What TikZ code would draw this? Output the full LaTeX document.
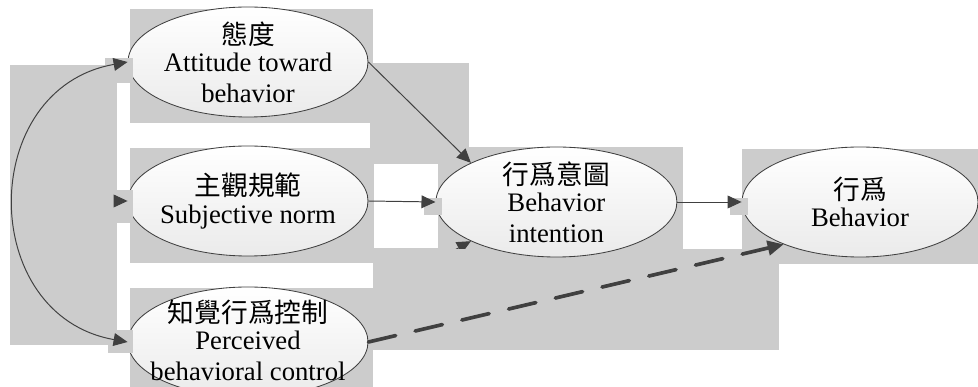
\documentclass[tikz,border=0pt]{standalone}
\usepackage{fontspec}
\setmainfont{Liberation Serif}
\newfontfamily\cjk{Noto Sans CJK TC}
\usepackage{tikz}
\usetikzlibrary{arrows.meta,shapes.geometric}
\definecolor{canvasgray}{RGB}{204,204,204}
\definecolor{linegray}{RGB}{64,64,64}
\newcommand\tightlines{\lineskiplimit=-20pt\relax\lineskip=0pt\relax}
\newcommand\han[1]{\raisebox{-2pt}{\cjk #1}}
\tikzset{
  bubble/.style={ellipse,draw=linegray,line width=0.6pt,top color=white,
    bottom color=black!8,minimum width=6cm,minimum height=2.75cm,inner sep=0pt},
  words/.style={align=center,inner sep=0pt,
    font=\fontsize{19}{21.6}\selectfont\tightlines}
}

\begin{document}
\begin{tikzpicture}[>={Triangle[length=3.5mm,width=3.2mm]},
  link/.style={->,draw=linegray,line width=0.7pt},
  dashlink/.style={-{Triangle[length=4mm,width=3.6mm]},draw=linegray,
    line width=2.6pt,line cap=round,dash pattern=on 0.7cm off 0.5cm}]
\useasboundingbox (0,0) rectangle (24.45,9.675);
% grey canvas pieces behind the shapes
\fill[canvasgray] (0.25,1.05) rectangle (2.925,8.05);
\fill[canvasgray] (3.25,6.6) rectangle (9.325,9.45);
\fill[canvasgray] (9.325,5.6) rectangle (11.725,8.1);
\fill[canvasgray] (9.25,3.45) rectangle (10.95,6.6);
\fill[canvasgray] (3.25,3.1) rectangle (9.325,5.975);
\fill[canvasgray] (10.95,3.45) rectangle (17.075,6.0);
\fill[canvasgray] (9.325,0.925) rectangle (19.475,3.45);
\fill[canvasgray] (18.55,3.075) rectangle (24.45,5.95);
\fill[canvasgray] (3.25,0) rectangle (9.325,2.475);
\fill[white] (9.35,3.475) rectangle (10.95,5.575);

% ellipses
\node[bubble] (att) at (6.2,8.125) {};
\node[bubble] (sub) at (6.2,4.65) {};
\node[bubble] (pbc) at (6.2,1.125) {};
\node[bubble,minimum width=6.025cm] (int) at (13.91,4.625) {};
\node[bubble,minimum width=5.9cm] (beh) at (21.5,4.625) {};

% small grey boxes round the arrow tips
\fill[canvasgray] (2.625,7.6) rectangle (3.325,8.225);
\fill[canvasgray] (2.875,4.1) rectangle (3.325,4.925);
\fill[canvasgray] (2.7,0.85) rectangle (3.325,1.425);
\fill[canvasgray] (10.6,4.3) rectangle (11.05,4.725);
\fill[canvasgray] (18.25,4.3) rectangle (18.7,4.725);

\node[words] at (att) {\han{態度}\\Attitude toward\\behavior};
\node[words] at (sub) {\han{主觀規範}\\Subjective norm};
\node[words] at ([yshift=0.05cm]pbc.center) {\han{知覺行爲控制}\\Perceived\\behavioral control};
\node[words] at (int) {\han{行爲意圖}\\Behavior\\intention};
\node[words] at (beh) {\han{行爲}\\Behavior};

% connectors
\draw[link] (att.east) -- (int.north west);
\draw[link] (sub.east) -- (int.west);
\draw[link] (int.east) -- (beh.west);
\draw[link,<->] (att.west) to[out=190,in=170,looseness=1.4] (pbc.west);
\draw[dashlink] (pbc.east) -- (beh.209);
\coordinate (subtail) at (2.85,4.65);
\draw[link] (subtail) -- (sub.west);
\begin{scope}
  \clip (10,3.45) rectangle (12.5,5);
  \coordinate (inttail) at (11.0,3.225);
  \draw[link] (inttail) -- (int.south west);
\end{scope}
\end{tikzpicture}
\end{document}
